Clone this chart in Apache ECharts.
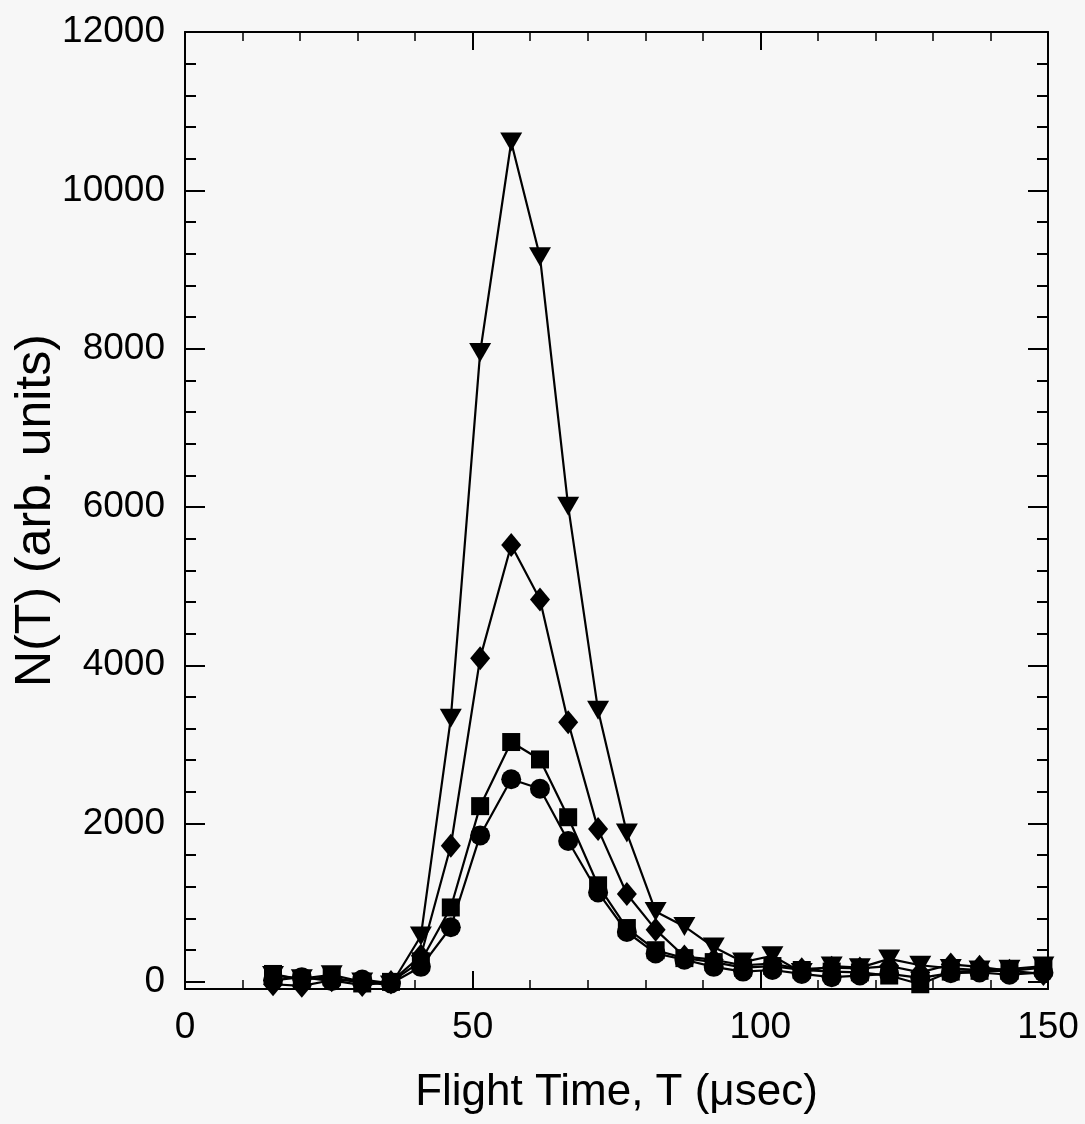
<!DOCTYPE html>
<html>
<head>
<meta charset="utf-8">
<script src="https://cdn.jsdelivr.net/npm/echarts@6/dist/echarts.min.js"></script>
<style>
html, body { margin: 0; padding: 0; background: #f7f7f7; }
#chart { width: 1085px; height: 1124px; }
</style>
</head>
<body>
<div id="chart"></div>
<script>
// flight time of each bin (usec)
var flightTime = [15.3, 20.3, 25.5, 30.8, 35.8, 41.0, 46.2, 51.3, 56.7, 61.7, 66.6, 71.8, 76.8, 81.8,
	86.8, 91.9, 97.0, 102.1, 107.2, 112.4, 117.3, 122.4, 127.8, 133.1, 138.1, 143.3, 149.2];

// N(T) per series
var circleVals = [20, 60, 10, 30, -20, 190, 690, 1850, 2560, 2440, 1780, 1130, 630, 360,
	280, 190, 130, 150, 100, 60, 80, 100, 50, 110, 120, 90, 120];
var squareVals = [100, 30, 60, -20, 0, 260, 940, 2220, 3030, 2810, 2080, 1220, 680, 400,
	300, 250, 180, 200, 150, 130, 120, 80, -30, 130, 140, 140, 180];
var diamondVals = [-30, -50, 20, -40, 0, 330, 1720, 4090, 5520, 4830, 3280, 1930, 1110, 660,
	320, 280, 210, 230, 160, 180, 170, 200, 120, 220, 190, 140, 100];
var triangleVals = [80, 40, 90, 0, -40, 580, 3330, 7950, 10610, 9160, 6010, 3430, 1880, 890,
	700, 440, 250, 330, 120, 200, 180, 290, 210, 170, 150, 160, 200];

// tick values of the y axis
var yMajorTicks = [0, 2000, 4000, 6000, 8000, 10000, 12000];
var yMinorTicks = [400, 800, 1200, 1600, 2400, 2800, 3200, 3600, 4400, 4800, 5200, 5600,
	6400, 6800, 7200, 7600, 8400, 8800, 9200, 9600, 10400, 10800, 11200, 11600];

var FONT = 'Liberation Sans';
var BLACK = '#000';

function pairs(vals) {
	var out = [];
	for (var i = 0; i < flightTime.length; i++) {
		out.push([flightTime[i], vals[i]]);
	}
	return out;
}

function makeSeries(vals, symbol, size, rotate) {
	return {
		type : 'line',
		data : pairs(vals),
		symbol : symbol,
		symbolSize : size,
		symbolRotate : rotate || 0,
		lineStyle : { color : BLACK, width : 2.2 },
		itemStyle : { color : BLACK },
		animation : false
	};
}

function plain(v) {
	return String(v); // no thousands separator
}

function xAxisOpt(pos, showLabel) {
	return {
		type : 'value',
		position : pos,
		min : 0,
		max : 150,
		interval : 50,
		axisLine : { onZero : false, lineStyle : { color : BLACK, width : 2 } },
		axisTick : { inside : true, length : 18, lineStyle : { color : BLACK, width : 2 } },
		minorTick : { show : true, splitNumber : 5, length : 9, lineStyle : { color : BLACK, width : 1.5 } },
		axisLabel : { show : showLabel, fontSize : 37, color : BLACK, fontFamily : FONT, margin : 20, formatter : plain },
		splitLine : { show : false }
	};
}

function yAxisOpt(pos, ticks, len, showLine, showLabel) {
	return {
		type : 'value',
		position : pos,
		min : -90,
		max : 12000,
		axisLine : { show : showLine, onZero : false, lineStyle : { color : BLACK, width : 2 } },
		axisTick : { inside : true, length : len, customValues : ticks, lineStyle : { color : BLACK, width : 2 } },
		axisLabel : { show : showLabel, customValues : ticks, fontSize : 37, color : BLACK, fontFamily : FONT, margin : 20, formatter : plain },
		splitLine : { show : false }
	};
}

var xBottom = xAxisOpt('bottom', true);
xBottom.name = 'Flight Time, T (\u03bcsec)';
xBottom.nameLocation = 'middle';
xBottom.nameGap = 82;
xBottom.nameMoveOverlap = false;
xBottom.nameTextStyle = { fontSize : 44, color : BLACK, fontFamily : FONT };

var yLeft = yAxisOpt('left', yMajorTicks, 20, true, true);
yLeft.name = 'N(T) (arb. units)';
yLeft.nameLocation = 'middle';
yLeft.nameGap = 124;
yLeft.nameMoveOverlap = false;
yLeft.nameTextStyle = { fontSize : 50, color : BLACK, fontFamily : FONT };

var option = {
	backgroundColor : '#f7f7f7',
	animation : false,
	grid : { left : 185, right : 37, top : 32, bottom : 135, containLabel : false, outerBoundsMode : 'none' },
	xAxis : [ xBottom, xAxisOpt('top', false) ],
	yAxis : [
		yLeft,
		yAxisOpt('left', yMinorTicks, 11, false, false),
		yAxisOpt('right', yMajorTicks, 20, true, false),
		yAxisOpt('right', yMinorTicks, 11, false, false)
	],
	series : [
		makeSeries(circleVals, 'circle', 20),
		makeSeries(squareVals, 'rect', 18),
		makeSeries(diamondVals, 'diamond', [20, 24]),
		makeSeries(triangleVals, 'triangle', [22, 19], 180)
	]
};

var myChart = echarts.init(document.getElementById('chart'));
myChart.setOption(option);
</script>
</body>
</html>
